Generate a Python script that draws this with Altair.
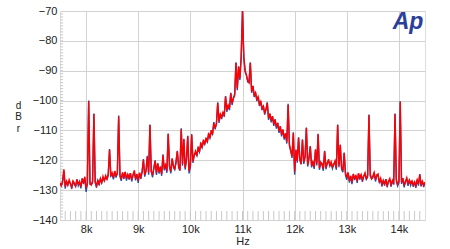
import altair as alt
import pandas as pd

# ---- data, 25 Hz steps per band ----
STEP = 25
band_starts = [7500, 8000, 9000, 10000, 11000, 12000, 13000, 14000]

red_bands = [
    [-127.5, -128.5, -126.8, -123.0, -128.8, -127.0, -128.3, -126.5, -127.8, -129.0,
     -126.9, -127.6, -128.7, -126.4, -127.9, -127.2, -128.9, -126.1, -127.4, -125.5],
    [-129.3, -127.8, -100.2, -127.5, -128.2, -126.9, -104.5, -127.3, -128.6, -126.7,
     -127.9, -126.2, -127.5, -125.4, -126.8, -125.1, -126.3, -124.6, -116.5, -125.3,
     -124.2, -125.8, -123.6, -125.1, -124.4, -105.3, -124.8, -126.3, -124.1, -125.6,
     -123.9, -126.2, -124.7, -125.9, -124.3, -126.5, -125.0, -123.4, -126.1, -124.6],
    [-126.8, -124.2, -125.6, -123.8, -120.0, -124.9, -123.5, -118.8, -124.1, -108.2,
     -123.7, -125.0, -122.6, -120.2, -124.3, -121.0, -123.9, -122.1, -124.6, -118.3,
     -122.8, -121.5, -123.6, -111.2, -122.0, -123.8, -119.4, -121.7, -123.1, -120.6,
     -117.0, -121.9, -123.4, -109.6, -121.2, -113.0, -122.5, -119.8, -112.0, -123.6],
    [-121.5, -111.5, -120.3, -118.2, -116.9, -118.5, -115.4, -117.2, -114.0, -115.8,
     -113.1, -114.7, -112.4, -113.9, -110.8, -112.6, -109.9, -111.3, -107.5, -109.0,
     -107.8, -100.8, -106.9, -104.5, -105.6, -103.9, -104.8, -98.7, -103.2, -101.5,
     -102.6, -97.6, -100.9, -99.2, -97.8, -87.4, -95.9, -88.7, -92.5, -85.3],
    [-70.0, -85.6, -89.8, -91.5, -93.2, -94.0, -87.4, -96.8, -95.1, -98.2,
     -97.3, -99.6, -98.7, -101.2, -100.3, -102.6, -101.8, -104.1, -103.0, -100.8,
     -105.9, -104.4, -106.7, -105.2, -107.9, -106.3, -108.8, -107.5, -110.2, -108.6,
     -111.4, -109.7, -112.5, -111.0, -113.8, -101.5, -114.6, -116.8, -118.6, -110.9],
    [-123.8, -116.5, -120.2, -112.5, -119.4, -121.3, -113.2, -120.6, -118.9, -109.2,
     -121.5, -119.3, -115.4, -121.8, -120.4, -122.3, -116.5, -121.1, -111.3, -122.6,
     -120.7, -121.0, -122.9, -117.0, -122.4, -121.0, -119.6, -121.8, -120.5, -122.2,
     -121.3, -120.1, -122.6, -108.2, -121.7, -114.9, -122.4, -123.4, -117.6, -124.1],
    [-125.8, -124.1, -126.9, -125.2, -127.3, -124.6, -126.0, -125.1, -127.0, -124.4,
     -125.9, -124.8, -126.6, -125.3, -124.2, -126.4, -125.0, -104.9, -124.7, -126.2,
     -125.3, -124.1, -126.5, -125.0, -124.6, -127.4, -126.0, -128.1, -126.7, -127.9,
     -126.3, -128.4, -127.0, -126.1, -128.2, -126.8, -127.5, -104.5, -126.4, -128.0],
    [-126.9, -100.4, -127.3, -126.0, -128.5, -127.1, -125.8, -128.0, -126.6, -127.8,
     -126.9, -128.3, -127.2, -128.6, -126.5, -127.9, -124.8, -128.1, -127.0, -128.4,
     -127.3],
]

blue_bands = [
    [-128.0, -128.5, -127.5, -123.5, -129.5, -127.0, -128.3, -127.2, -127.8, -129.6,
     -126.9, -128.2, -128.7, -126.4, -128.5, -127.2, -129.4, -126.1, -127.9, -125.8],
    [-130.6, -127.8, -100.0, -128.1, -128.2, -127.5, -104.3, -127.3, -129.2, -126.7,
     -128.4, -126.2, -127.5, -126.0, -126.8, -125.8, -126.3, -125.2, -116.2, -125.3,
     -124.8, -126.4, -123.6, -125.8, -124.4, -105.0, -125.5, -126.9, -124.1, -126.2,
     -123.9, -126.8, -124.7, -126.5, -124.3, -127.1, -125.0, -124.0, -126.7, -124.6],
    [-127.6, -124.2, -126.2, -123.8, -119.6, -125.5, -123.5, -118.5, -124.8, -108.0,
     -123.7, -125.7, -122.6, -120.0, -124.9, -121.0, -124.5, -122.1, -125.2, -118.0,
     -123.4, -121.5, -124.2, -111.0, -122.0, -124.4, -119.4, -122.3, -123.1, -120.6,
     -116.8, -122.5, -123.4, -109.3, -121.8, -112.8, -123.1, -119.8, -111.8, -124.4],
    [-122.4, -111.2, -120.9, -118.2, -117.5, -118.5, -116.0, -117.2, -114.6, -115.8,
     -113.7, -114.7, -113.0, -113.9, -111.4, -112.6, -110.5, -111.3, -107.2, -109.6,
     -107.8, -100.6, -107.5, -104.5, -106.2, -103.9, -105.4, -98.5, -103.8, -101.5,
     -103.2, -97.4, -101.5, -99.2, -98.4, -87.2, -96.5, -88.5, -93.1, -85.1],
    [-70.0, -85.4, -90.4, -91.5, -93.8, -94.0, -87.2, -97.4, -95.1, -98.8,
     -97.3, -100.2, -98.7, -101.8, -100.3, -103.2, -101.8, -104.7, -103.0, -100.6,
     -106.5, -104.4, -107.3, -105.2, -108.5, -106.3, -109.4, -107.5, -110.8, -108.6,
     -112.0, -109.7, -113.1, -111.0, -114.4, -101.1, -115.2, -116.8, -119.2, -110.6],
    [-124.8, -116.5, -120.8, -112.3, -120.0, -121.3, -113.0, -121.2, -118.9, -109.0,
     -122.1, -119.3, -115.2, -122.4, -120.4, -122.9, -116.3, -121.7, -111.1, -123.2,
     -120.7, -121.6, -123.5, -116.8, -123.0, -121.0, -120.2, -121.8, -121.1, -122.8,
     -121.3, -120.7, -123.2, -108.0, -122.3, -114.7, -123.0, -124.0, -117.4, -125.0],
    [-126.5, -124.1, -127.5, -125.2, -128.0, -124.6, -126.6, -125.1, -127.6, -124.4,
     -126.5, -124.8, -127.2, -125.3, -124.8, -126.4, -125.6, -104.7, -125.3, -126.2,
     -125.9, -124.1, -127.1, -125.0, -125.2, -127.4, -126.6, -128.7, -126.7, -128.5,
     -126.3, -129.0, -127.0, -126.7, -128.8, -126.8, -128.1, -104.3, -127.0, -128.6],
    [-127.5, -100.2, -127.9, -126.0, -129.1, -127.1, -126.4, -128.6, -126.6, -128.4,
     -126.9, -128.9, -127.2, -129.2, -126.5, -128.5, -124.6, -128.7, -127.0, -129.0,
     -127.3],
]

x_tick_values = [8000, 9000, 10000, 11000, 12000, 13000, 14000]
y_tick_values = [-140, -130, -120, -110, -100, -90, -80, -70]
x_minor = list(range(7600, 14500, 100))
y_minor = list(range(-139, -70, 1))


def build(bands, name):
    rows = []
    for start, vals in zip(band_starts, bands):
        for i, v in enumerate(vals):
            rows.append({"f": start + STEP * i, "db": v, "s": name})
    return pd.DataFrame(rows)


red_df = build(red_bands, "red")
blue_df = build(blue_bands, "blue")
mx_df = pd.DataFrame({"f": x_minor, "db": [-140] * len(x_minor), "db2": [-137] * len(x_minor)})
my_df = pd.DataFrame({"db": y_minor, "f": [7500] * len(y_minor), "f2": [7560] * len(y_minor)})

FONT = "Liberation Sans"
GRID = "#d2d2d2"

x_scale = alt.Scale(domain=[7500, 14500], nice=False, zero=False)
y_scale = alt.Scale(domain=[-140, -70], nice=False, zero=False)

x_axis = alt.Axis(
    values=x_tick_values, labelExpr="datum.value / 1000 + 'k'", title="Hz",
    grid=True, gridColor=GRID, gridWidth=1, ticks=False, tickSize=0, domain=False,
    labelFont=FONT, labelFontSize=11, labelColor="#222222", labelPadding=3,
    titleFont=FONT, titleFontSize=11, titleFontWeight="normal", titleColor="#222222",
    titleY=21, titleBaseline="middle",
)
y_axis = alt.Axis(
    values=y_tick_values, title=["d", "B", "r"], titleAngle=0, titleX=-42, titleY=89,
    titleBaseline="top", titleAlign="center", titleLineHeight=11.5,
    grid=True, gridColor=GRID, gridWidth=1, ticks=False, tickSize=0, domain=False,
    labelFont=FONT, labelFontSize=11, labelColor="#222222", labelPadding=3,
    titleFont=FONT, titleFontSize=10, titleFontWeight="normal", titleColor="#222222",
)

X = alt.X("f:Q", scale=x_scale, axis=x_axis)
Y = alt.Y("db:Q", scale=y_scale, axis=y_axis)

minor_x = alt.Chart(mx_df).mark_rule(color="#c8c8c8", strokeWidth=1).encode(
    x=X, y=Y, y2="db2:Q")
minor_y = alt.Chart(my_df).mark_rule(color="#c8c8c8", strokeWidth=1).encode(
    y=Y, x=X, x2="f2:Q")

blue = alt.Chart(blue_df).mark_line(color="#2a4aa8", strokeWidth=1.4, clip=True).encode(
    x=X, y=Y, order="f:Q")
red = alt.Chart(red_df).mark_line(color="#ff0000", strokeWidth=1.4, clip=True).encode(
    x=X, y=Y, order="f:Q")

logo = alt.Chart(pd.DataFrame({"t": ["Ap"]})).mark_text(
    font=FONT, fontSize=23, fontStyle="italic", fontWeight="bold", color="#2b3f99",
    align="center", baseline="alphabetic",
).encode(text="t:N", x=alt.value(348), y=alt.value(18))

chart = alt.layer(minor_x, minor_y, blue, red, logo).properties(
    width=365, height=209,
    autosize=alt.AutoSizeParams(type="none"),
    padding={"left": 60, "top": 11, "right": 25, "bottom": 29},
).configure_view(stroke="#c8c8c8", strokeWidth=1).configure(background="white")

chart.save("out.html", embed_options={"renderer": "svg", "actions": False})
